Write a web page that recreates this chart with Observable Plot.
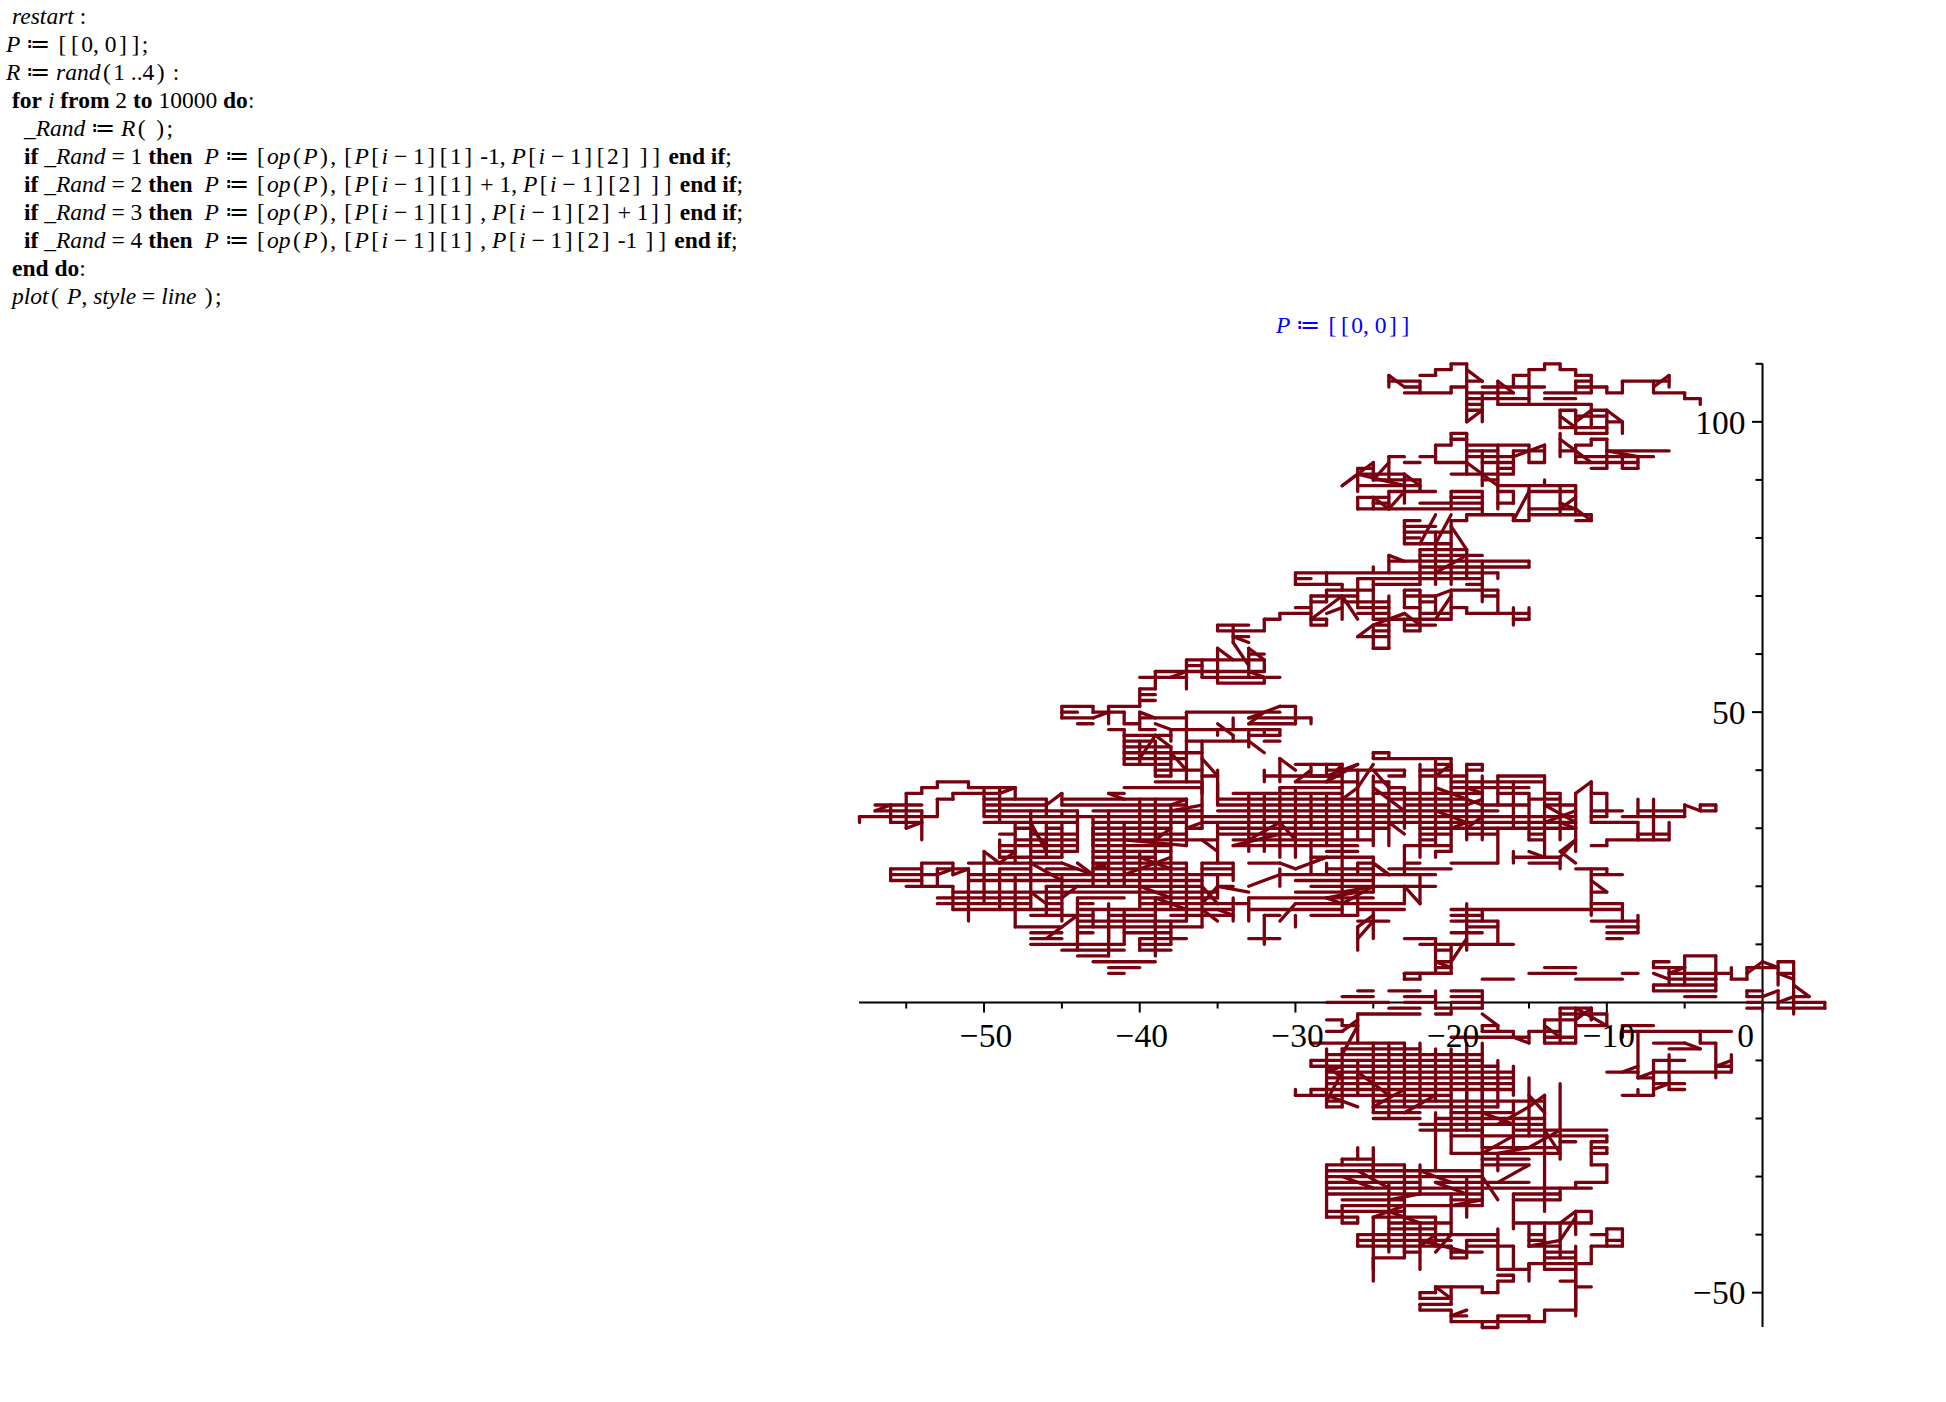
<!DOCTYPE html>
<html><head><meta charset="utf-8">
<script src="https://cdn.jsdelivr.net/npm/d3@7"></script>
<script src="https://cdn.jsdelivr.net/npm/@observablehq/plot@0.6"></script>
<style>
html,body{margin:0;padding:0;background:#fff}
#page{position:relative;width:1946px;height:1402px;overflow:hidden}
#page svg{position:absolute;left:0;top:0}
.c{position:absolute;font:23.5px/28px "Liberation Serif",serif;white-space:pre;color:#000}
.c s{text-decoration:none;margin:0 2.4px}
#t{color:#0000ff}
</style></head><body><div id="page"></div>
<script>
// rows: [y, x1,x2, x3,x4, ...]; cols: [x, y1,y2, y3,y4, ...]; diags: [x1,y1,x2,y2]
const topRows=[
[110,-20,-19,-14,-13],[109,-21,-20,-15,-14,-13,-12],[108,-22,-21,-16,-15,-12,-11],
[107,-24,-22,-19,-18,-12,-11,-9,-6],[106,-23,-22,-20,-19,-18,-14,-12,-10],
[105,-23,-20,-19,-16,-14,-11,-10,-9,-7,-5],[104,-19,-18,-18,-15,-14,-12,-5,-4],[103,-19,-18,-17,-11],
[102,-19,-18,-13,-12,-11,-10],[101,-12,-10],[100,-10,-9],[99,-13,-10],[98,-20,-19,-12,-10],
[97,-20,-19,-11,-10],[96,-21,-20,-19,-15,-12,-11],[95,-19,-17,-16,-14,-13,-12,-10,-6],
[94,-24,-23,-22,-21,-19,-16,-12,-8,-8,-7],[93,-23,-22,-21,-19,-18,-16,-15,-14,-12,-8],
[92,-26,-25,-17,-16,-11,-10,-9,-8],[91,-26,-23,-20,-17,-17,-16],[90,-25,-22,-18,-17],
[89,-26,-22,-17,-12],[88,-24,-21,-20,-18,-17,-16,-15,-12],[87,-26,-24,-20,-18],
[86,-25,-24,-22,-18,-17,-16],[85,-26,-18,-15,-12],[84,-19,-16,-15,-11],[83,-23,-22,-20,-19,-16,-15,-12,-11]];
const topCols=[
[-24,108,106,94,90,88,85],[-22,107,105,90,88],[-21,109,108,96,93],[-20,110,109,106,105,98,96,88,85],
[-19,110,100,98,91,84,83],[-18,105,100,95,89,88,84],[-17,107,103,96,85],[-16,108,106,95,91,88,86,84,83],
[-15,109,103,96,93,89,83],[-14,110,109,96,93,90,89],[-13,110,109,102,99,98,94,89,84],
[-12,109,108,107,105,102,98,96,93,89,84],[-11,108,105,103,99,97,96,84,83],[-10,106,105,102,98,97,92],
[-9,107,105,100,98,94,92],[-8,94,92],[-7,107,105],[-6,108,106],[-5,105,104],[-4,104,103],
[-26,92,88,87,85],[-25,93,90,87,85],[-23,91,86]];
const topDiags=[
[-19,109,-18,107],[-18,102,-19,100],[-13,101,-12,99],[-12,100,-11,102],[-10,102,-9,100],[-17,107,-16,105],
[-24,108,-23,106],[-7,106,-6,108],[-13,97,-12,95],[-12,95,-11,93],[-16,94,-14,96],[-10,95,-8,94],
[-19,93,-17,89],[-27,89,-25,93],[-27,89,-26,91],[-26,91,-23,89],[-25,90,-24,93],[-23,91,-22,89],
[-23,88,-24,85],[-25,87,-24,85],[-16,83,-15,88],[-13,86,-12,85],[-13,85,-12,87],[-12,85,-11,83]];
const upperRows=[
[82,-23,-21],[81,-23,-20],[80,-23,-22],[79,-23,-20],[78,-22,-19],[77,-22,-18],[76,-24,-15],
[75,-22,-15],[74,-30,-28,-28,-18,-18,-17],[73,-30,-29,-26,-18],[72,-30,-27,-25,-22,-19,-18],
[71,-28,-26,-26,-25,-23,-22,-20,-17],[70,-29,-26,-23,-21,-18,-17],[69,-29,-28,-27,-24,-22,-21],
[68,-30,-29,-26,-24,-23,-22,-20,-19],[67,-31,-29,-26,-24,-22,-20,-19,-15],
[66,-32,-31,-29,-28,-25,-20,-16,-15],[65,-29,-28,-25,-24,-23,-21],[64,-25,-24,-23,-22],[63,-26,-24],[61,-25,-24]];
const upperCols=[
[-30,74,72],[-29,70,65],[-28,74,72,71,69,66,65],[-27,72,71,70,66],[-26,73,68],[-25,75,74,73,66,65,61],[-24,77,74,70,61],
[-23,83,79,71,68,66,64],[-22,78,72,71,64],[-21,81,72,70,67],[-20,83,72,71,66],[-19,78,73,68,67],
[-18,76,71,71,69],[-17,74,73,71,67],[-16,68,67,67,65],[-15,76,75,68,66],[-31,67,66],[-32,66,64]];
const upperDiags=[
[-22,79,-21,84],[-21,79,-20,84],[-20,82,-19,78],[-24,77,-23,76],[-29,66,-27,70],[-27,70,-26,66],[-28,67,-27,68],
[-21,66,-20,70],[-21,70,-20,71],[-26,63,-25,65],[-25,65,-23,67],[-24,66,-23,67],[-23,67,-22,65],[-21,74,-19,77]];
const neckRows=[
[65,-35,-33],[64,-35,-32],[63,-34,-33],[60,-33,-32],[59,-37,-32],[58,-37,-36],[57,-39,-32],
[56,-40,-37,-36,-33,-33,-31],[55,-35,-32],[54,-40,-39],[53,-40,-39],[52,-40,-39],[51,-45,-43,-42,-40],
[50,-45,-44,-43,-41,-37,-31],[49,-45,-43,-40,-37,-33,-29],[48,-44,-43,-41,-40,-33,-30],
[47,-42,-41,-40,-39,-38,-33,-33,-31],[46,-41,-38,-33,-31],[45,-41,-39,-37,-33,-32,-31],
[44,-41,-38],[43,-41,-36],[42,-41,-37],[41,-41,-38],[40,-39,-36],[39,-39,-38,-36,-35]];
const neckCols=[
[-35,65,64,61,55,47,46,40,34],[-34,65,62,49,47,46,45],[-37,59,54,50,38],[-36,59,56,45,36],[-33,61,56,47,44],
[-32,59,57,56,55,47,46],[-39,57,54,45,39],[-40,54,51,50,47,45,41],[-45,51,49],[-43,51,50],[-42,51,48],
[-41,50,48,47,41],[-38,47,45,44,39],[-31,47,46],[-29,49,48]];
const neckDiags=[
[-34,62,-33,58],[-34,63,-33,62],[-35,61,-34,59],[-33,61,-32,59],[-38,56,-37,57],[-33,57,-32,56],
[-43,49,-42,50],[-40,50,-39,49],[-39,48,-38,47],[-35,48,-34,46],[-33,45,-32,43],[-33,49,-31,51],[-31,51,-30,51],
[-30,51,-30,48],[-40,42,-39,46],[-39,46,-38,44],[-38,43,-37,40],[-36,42,-35,39],[-33,48,-32,50]];
const bandRows=[
[43,-25,-24],[42,-25,-20],[41,-30,-27,-21,-20,-19,-18],[40,-28,-25,-25,-23,-22,-20,-19,-18],
[39,-32,-28,-29,-27,-24,-23,-22,-19,-17,-14],
[38,-53,-51,-39,-36,-30,-26,-25,-24,-20,-14],[37,-54,-53,-51,-48,-41,-36,-31,-27,-24,-23,-20,-15],
[36,-55,-54,-52,-49,-42,-41,-34,-27,-25,-18,-17,-15,-14,-13,-11,-10],
[35,-53,-52,-50,-46,-45,-37,-35,-25,-24,-19,-15,-13],[34,-57,-54,-50,-46,-45,-37,-35,-24,-23,-19,-18,-15,-14,-12,-4,-3],
[33,-57,-54,-50,-44,-43,-36,-35,-17,-11,-9,-8,-5,-4,-3],[32,-58,-53,-50,-12,-11,-10,-9,-5],
[31,-56,-54,-50,-44,-43,-37,-36,-12,-11,-8],[30,-48,-47,-46,-45,-43,-38,-37,-36,-35,-24,-22,-12],
[29,-49,-48,-47,-44,-43,-37,-35,-27,-22,-20,-19,-17,-15,-14,-8,-6],[28,-48,-44,-43,-35,-34,-25,-22,-21,-15,-14,-10,-8,-8,-6],
[27,-49,-44,-43,-38,-34,-26,-23,-20,-11,-10],[26,-49,-48,-47,-44,-43,-38,-28,-26],
[25,-49,-45,-43,-39,-29,-25,-16,-13],[24,-54,-52,-51,-45,-43,-37,-36,-34,-33,-31,-26,-25,-23,-22,-20,-17,-15,-13],
[23,-56,-54,-53,-51,-49,-47,-46,-44,-43,-37,-36,-34,-28,-25,-24,-20,-12,-10],
[22,-56,-53,-51,-34,-31,-21,-11,-9],[21,-56,-54,-51,-36,-30,-25],[20,-55,-52,-46,-36,-35,-34,-29,-21],
[19,-52,-35,-30,-25,-11,-10],[18,-53,-47,-46,-45,-44,-41,-40,-35,-33,-25],
[17,-53,-47,-46,-45,-44,-43,-40,-33,-30,-23,-11,-9],[16,-52,-45,-44,-34,-33,-27,-26,-23,-20,-9],
[15,-47,-43,-42,-39,-38,-34,-32,-31,-29,-26,-20,-18],[14,-44,-37,-26,-24,-20,-17,-11,-8],
[13,-48,-45,-44,-36,-19,-17,-10,-8],[12,-47,-45,-44,-43,-41,-38,-20,-18,-10,-8],
[11,-47,-45,-40,-37,-33,-31,-23,-21,-10,-9],[10,-47,-41,-40,-38,-22,-20,-20,-16],[9,-45,-41,-40,-38,-21,-20],
[8,-44,-42],[7,-43,-39,-21,-20],[6,-42,-40,-21,-20],[5,-42,-41,-23,-20]];
const bandCols=[
[-58,32,31],[-56,34,31,23,21],[-54,37,36,33,31,31,28,24,20],[-55,36,30],[-53,38,37,35,32,23,20],[-52,36,35,24,22,20,16],[-51,38,37,23,14],
[-50,37,32,26,17],[-49,37,31,28,25,23,16],[-48,37,35,31,24,22,13],[-47,33,16],[-46,35,32,31,25,20,15],
[-45,33,32,31,25,22,14],[-44,33,26,18,14,15,9],[-43,32,27,30,20,16,13],[-42,33,20,17,11,13,8],
[-41,31,20,16,10],[-40,35,28,26,16,11,9],[-39,35,21,18,13,14,8],[-38,34,16,14,10],[-37,35,27,24,14],
[-36,38,30,24,13],[-35,38,35,31,24,22,18],[-34,24,21,18,14],[-33,36,26,18,14],[-32,40,38,36,26,15,10],
[-31,42,38,37,25,23,20],[-30,37,25,15,13],[-29,41,39,36,30,28,22],[-28,41,39,36,27,24,22],[-27,41,15],[-26,40,28,24,22,18,15,13,9],
[-25,43,42,39,27,25,19,16,11],[-24,43,42,38,27],[-23,40,39,37,30,27,22,20,17],[-22,41,25,22,17],[-21,42,39,39,27,26,25,11,5],
[-20,42,40,41,26,10,5],[-19,41,28,17,9],[-18,41,40,39,28,16,14],[-17,39,34,30,24,14,10],[-16,38,30,26,24],[-15,36,28],
[-14,39,27,27,25],[-13,36,28,25,23],[-12,36,26],[-11,38,31,23,15],[-10,36,32,23,22,28,27],[-9,17,14],[-8,35,32,31,28,15,12,29,28],
[-7,35,28],[-6,31,28],[-5,34,32],[-3,34,33],[-4,34,33]];
const bandDiags=[
[-49,36,-48,37],[-52,22,-51,23],[-53,22,-52,23],[-57,33,-56,34],[-55,30,-54,31],
[-5,34,-4,33],[-13,25,-12,28],[-31,42,-30,40],[-28,39,-26,41],
[-12,36,-11,38],[-12,28,-13,26],[-13,26,-12,24],[-11,21,-10,19],[-15,26,-14,25],[-20,7,-19,11],[-21,7,-20,6],
[-26,11,-25,14],[-25,24,-24,22],[-23,20,-22,17],[-28,18,-27,17],[-28,18,-26,19],[-30,23,-28,25],[-14,34,-12,31],
[-14,31,-12,33],[-13,31,-12,30],[-25,40,-24,37],[-25,37,-23,33],[-24,31,-23,29],[-27,41,-28,38],[-28,38,-26,41],
[-29,40,-30,38],[-27,35,-26,37],[-26,37,-25,41],[-21,26,-20,26],[-21,39,-20,41],[-21,37,-18,34],[-19,37,-18,36],
[-21,33,-19,31],[-19,34,-18,35],[-20,30,-19,31],[-19,30,-18,32],[-50,26,-49,24],[-48,26,-49,24],[-47,30,-46,27],
[-47,24,-45,21],[-45,24,-43,22],[-44,24,-43,22],[-47,19,-46,17],[-46,11,-44,15],[-45,18,-44,20],[-46,34,-45,36],
[-45,36,-45,34],[-42,36,-41,35],[-39,28,-38,30],[-41,28,-37,27],[-43,24,-42,23],[-43,23,-42,24],[-41,22,-38,25],
[-40,25,-38,23],[-38,34,-37,35],[-38,33,-36,34],[-37,30,-36,31],[-36,28,-35,26],[-34,27,-31,29],[-33,28,-31,31],
[-31,31,-30,28],[-33,20,-31,22],[-31,24,-30,23],[-29,24,-28,25],[-27,19,-25,20],[-25,24,-24,22],[-26,13,-25,15],
[-35,20,-33,19],[-36,16,-35,14],[-36,17,-35,20],[-40,20,-38,18],[-39,18,-37,16],[-36,20,-35,17],[-35,16,-34,15],
[-31,14,-30,17],[-27,17,-25,20],[-47,31,-46,26]];
const rightRows=[
[8,-5,-3],[7,-7,-6,1,2],[6,-14,-12,-7,-6,-6,-5,-1,1],[5,-23,-20,-15,-12,-9,-8,-6,-2,1,2],[4,-23,-22,-18,-16,-12,-9,-6,-3,-2,-1],
[3,-7,-3],[2,-26,-25,-24,-22,-20,-18,-7,-3,-1,0],[1,-27,-25,-23,-21,-20,-18,-5,-3,-1,0,2,3],
[0,-28,-24,-23,-21,-20,-18,-1,0,2,4],[-1,-24,-22,-21,-20,-20,-18,-13,-11,-1,0,1,4],
[-2,-26,-22,-21,-20,-13,-10],[-3,-28,-27,-14,-12],[-4,-27,-26,-18,-17,-12,-10,-9,-7],
[-5,-28,-27,-18,-16,-15,-13,-9,-4,-4,-2],[-6,-20,-15,-14,-12],[-7,-29,-23,-14,-12,-7,-5,-4,-3],
[-8,-27,-22,-6,-4],[-9,-28,-18],[-10,-29,-26,-26,-18,-7,-5],[-11,-29,-17,-3,-2],[-12,-28,-16,-10,-8,-7,-2],
[-13,-28,-16,-8,-7],[-14,-28,-16,-7,-5],[-15,-29,-16,-6,-5],[-16,-30,-20,-9,-7]];
const rightCols=[
[-7,7,6,3,2],[-6,6,3],[-5,8,3],[-3,8,2],[-2,6,4],[-1,6,4,2,1],[1,7,3,2,-1],[2,7,-2],[4,0,-1],
[-23,5,4],[-22,5,4],[-21,2,-1],[-20,-1,-2],[-18,2,-1,-4,-5],[-17,-4,-5],[-16,-5,-6],[-15,-5,-7],
[-14,-3,-7],[-13,-1,-7],[-12,-1,-7],[-11,-1,-3],[-10,-2,-4],[-9,-4,-6],[-8,-5,-13,-15,-16],[-6,-9,-15],
[-7,-10,-16],[-3,-7,-13],[-2,-9,-12],[-4,-5,-7],[-30,-16,-15],[-29,-10,-11,-15,-16],[-28,-8,-18],[-27,-3,-4,-8,-18],[-26,-2,-7,-10,-16],
[-25,-7,-19],[-24,-7,-17],[-23,-7,-18],[-22,-7,-18],[-21,-8,-17],[-20,-8,-18],[-19,-7,-17],[-18,-7,-25],[-17,-10,-18],[-16,-11,-16]];
const rightDiags=[
[-6,5,-5,6],[-7,5,-6,4],[-1,5,0,7],[0,7,1,6],[1,5,2,4],[0,1,1,2],[2,3,3,1],[1,0,2,1],[-18,-2,-17,-4],
[-14,-4,-13,-6],[-12,-1,-10,-4],[-12,-3,-11,-1],[-11,-1,-11,-3],[-16,-6,-15,-7],[-5,-7,-4,-8],[-2,-10,-3,-11],
[-8,-13,-7,-12],[-7,-15,-6,-14],[-9,-12,-8,-11],[-27,-5,-26,-3],[-27,-9,-26,-4],[-28,-12,-27,-11]];
const bottomRows=[
[-17,-28,-27,-25,-18,-18,-14],[-18,-28,-27,-25,-17],[-19,-25,-22,-20,-16],[-20,-25,-22,-21,-14],[-21,-22,-14],
[-22,-22,-18,-16,-10],[-23,-20,-10],[-24,-13,-12,-11,-10],[-25,-18,-13,-11,-10],[-26,-20,-13,-11,-10],[-27,-27,-25,-18,-15],
[-28,-28,-23,-18,-15,-11,-10],[-29,-28,-18],[-30,-28,-18],[-31,-28,-22,-21,-15,-12,-10],[-32,-28,-11],[-33,-28,-18,-16,-13],
[-34,-27,-23,-20,-18,-16,-13],[-35,-27,-18],[-36,-28,-23,-12,-11],[-37,-28,-26,-25,-21],[-38,-27,-26,-24,-20,-16,-11],
[-39,-24,-21,-10,-9],[-40,-26,-17,-15,-14,-11,-10],[-41,-26,-20,-19,-17,-15,-14,-10,-9],
[-42,-26,-20,-19,-16,-15,-13,-11,-9],[-43,-23,-22,-20,-18,-14,-12],[-44,-25,-23,-20,-19,-14,-12],[-45,-15,-11],
[-46,-17,-15,-14,-12],[-47,-17,-16],[-48,-17,-16,-13,-12],[-49,-21,-18,-12,-11],[-50,-22,-21,-18,-17],[-51,-22,-20],
[-52,-22,-20],[-53,-22,-20,-14,-12],[-54,-20,-19,-17,-15],[-55,-20,-14],[-56,-18,-17]];
const bottomCols=[
[-28,-28,-37],[-27,-27,-28,-35,-38],[-26,-25,-27,-37,-38,-40,-42],[-25,-25,-29,-37,-46,-28,-31,-44,-48],
[-24,-17,-20,-31,-43],[-23,-28,-44,-43,-42],[-22,-28,-33,-38,-46,-50,-51,-52,-53],[-21,-19,-29,-37,-42,-49,-50],
[-20,-17,-26,-33,-40,-42,-44,-49,-52,-53,-55],[-19,-15,-22,-30,-37,-41,-44],[-18,-22,-35,-49,-50,-14,-17,-55,-56],[-17,-26,-29,-39,-46,-48,-50,-54,-56],
[-16,-17,-26,-33,-39,-42,-44,-47,-48],[-15,-13,-23,-38,-42,-45,-46,-54,-55],[-14,-16,-36,-38,-46,-53,-55],[-13,-14,-27,-32,-34,-38,-44],
[-12,-36,-40,-42,-54,-45,-53,-31,-32],[-11,-24,-28,-36,-38,-42,-45],[-10,-23,-24,-25,-26,-28,-31,-39,-42],[-16,-44,-46],[-9,-39,-42],[-15,-48,-45]];
const bottomDiags=[
[-28,-17,-27,-12],[-28,-11,-27,-13],[-26,-12,-24,-16],[-28,-16,-26,-18],[-25,-18,-23,-15],[-23,-19,-21,-16],
[-14,-19,-15,-16],[-15,-18,-14,-16],[-18,-19,-16,-21],[-17,-21,-15,-18],[-15,-25,-13,-22],[-14,-22,-13,-26],
[-18,-26,-16,-23],[-17,-26,-15,-25],[-18,-30,-17,-34],[-17,-31,-15,-28],[-26,-29,-24,-32],[-25,-32,-27,-30],
[-21,-31,-19,-33],[-22,-29,-20,-31],[-24,-34,-22,-33],[-18,-34,-20,-35],[-25,-37,-23,-35],[-22,-38,-24,-36],
[-13,-38,-12,-36],[-13,-41,-12,-37],[-15,-42,-13,-41],[-22,-42,-21,-40],[-22,-41,-19,-43],[-21,-43,-20,-40],
[-21,-49,-20,-51],[-20,-54,-19,-53]];
const xMajor=[-50,-40,-30,-20,-10,0], xMinor=[-55,-45,-35,-25,-15,-5];
const xLabels=["−50","−40","−30","−20","−10"];
const yMajor=[100,50,-50], yMinor=[110,90,80,70,60,40,30,20,10,-10,-20,-30,-40];
const yLabels=["100","50","−50"];
const codeLines=[
[12,'<i>restart</i> :'],
[6,'<i>P</i> ≔ [[0, 0]];'],
[6,'<i>R</i> ≔ <i>rand</i>(1 ..4) :'],
[12,'<b>for</b> <i>i</i> <b>from</b> 2 <b>to</b> 10000 <b>do</b>:'],
[24,'<i>_Rand</i> ≔ <i>R</i>( );'],
[24,'<b>if</b> <i>_Rand</i> = 1 <b>then</b>  <i>P</i> ≔ [<i>op</i>(<i>P</i>), [<i>P</i>[<i>i</i> − 1][1] -1, <i>P</i>[<i>i</i> − 1][2] ]] <b>end if</b>;'],
[24,'<b>if</b> <i>_Rand</i> = 2 <b>then</b>  <i>P</i> ≔ [<i>op</i>(<i>P</i>), [<i>P</i>[<i>i</i> − 1][1] + 1, <i>P</i>[<i>i</i> − 1][2] ]] <b>end if</b>;'],
[24,'<b>if</b> <i>_Rand</i> = 3 <b>then</b>  <i>P</i> ≔ [<i>op</i>(<i>P</i>), [<i>P</i>[<i>i</i> − 1][1] , <i>P</i>[<i>i</i> − 1][2] + 1]] <b>end if</b>;'],
[24,'<b>if</b> <i>_Rand</i> = 4 <b>then</b>  <i>P</i> ≔ [<i>op</i>(<i>P</i>), [<i>P</i>[<i>i</i> − 1][1] , <i>P</i>[<i>i</i> − 1][2] -1 ]] <b>end if</b>;'],
[12,'<b>end do</b>:'],
[12,'<i>plot</i>( <i>P</i>, <i>style</i> = <i>line</i> );']];
const titleText='<i>P</i> ≔ [[0, 0]]';
const spaced=h=>h.replace(/[\[\]()]/g,m=>`<s>${m}</s>`);

const segs=[];
for(const r of [topRows,upperRows,neckRows,bandRows,rightRows,bottomRows]) for(const [y,...xs] of r)
  for(let i=0;i+1<xs.length;i+=2) segs.push({x1:xs[i],x2:xs[i+1],y1:y,y2:y});
for(const c of [topCols,upperCols,neckCols,bandCols,rightCols,bottomCols]) for(const [x,...ys] of c)
  for(let i=0;i+1<ys.length;i+=2) segs.push({x1:x,x2:x,y1:ys[i],y2:ys[i+1]});
for(const d of [topDiags,upperDiags,neckDiags,bandDiags,rightDiags,bottomDiags]) for(const [x1,y1,x2,y2] of d) segs.push({x1,y1,x2,y2});

const W=1946,H=1402;
const font='"Liberation Serif",serif';
const chart=Plot.plot({
  width:W,height:H,marginLeft:859,marginRight:121.7,marginTop:363.3,marginBottom:75,
  x:{domain:[-58,4],axis:null},y:{domain:[-56,110],axis:null},
  style:{background:"transparent"},
  marks:[
    Plot.ruleY([0],{x1:-58,x2:4,stroke:"#000",strokeWidth:2}),
    Plot.ruleX([0],{y1:-56,y2:110,stroke:"#000",strokeWidth:2}),
    Plot.ruleX(xMajor,{x:d=>d,y1:0,y2:-1.84,stroke:"#000",strokeWidth:2}),
    Plot.ruleX(xMinor,{x:d=>d,y1:0,y2:-1.14,stroke:"#000",strokeWidth:2}),
    Plot.ruleY(yMajor,{y:d=>d,x1:0,x2:-0.64,stroke:"#000",strokeWidth:2}),
    Plot.ruleY(yMinor,{y:d=>d,x1:0,x2:-0.42,stroke:"#000",strokeWidth:2}),
    Plot.link(segs,{x1:"x1",y1:"y1",x2:"x2",y2:"y2",stroke:"#78000f",strokeWidth:3.3,strokeLinecap:"round",curve:"linear"}),
    Plot.text(xLabels,{x:(d,i)=>xMajor[i],y:0,text:d=>d,dx:2,dy:34,fontSize:33.5,fontFamily:font,fill:"#000"}),
    Plot.text(["0"],{x:0,y:0,text:d=>d,dx:-17,dy:34,fontSize:33.5,fontFamily:font,fill:"#000"}),
    Plot.text(yLabels,{x:0,y:(d,i)=>yMajor[i],text:d=>d,dx:-17,dy:1,textAnchor:"end",fontSize:33.5,fontFamily:font,fill:"#000"})
  ]
});
const page=document.getElementById("page");
page.appendChild(chart);
codeLines.forEach(([left,html],i)=>{
  const d=document.createElement("div");d.className="c";d.style.left=left+"px";d.style.top=(i*28+2)+"px";d.innerHTML=spaced(html);page.appendChild(d);
});
const t=document.createElement("div");t.id="t";t.className="c";t.style.left="1276px";t.style.top="311px";
t.innerHTML=spaced(titleText);page.appendChild(t);
</script></body></html>
